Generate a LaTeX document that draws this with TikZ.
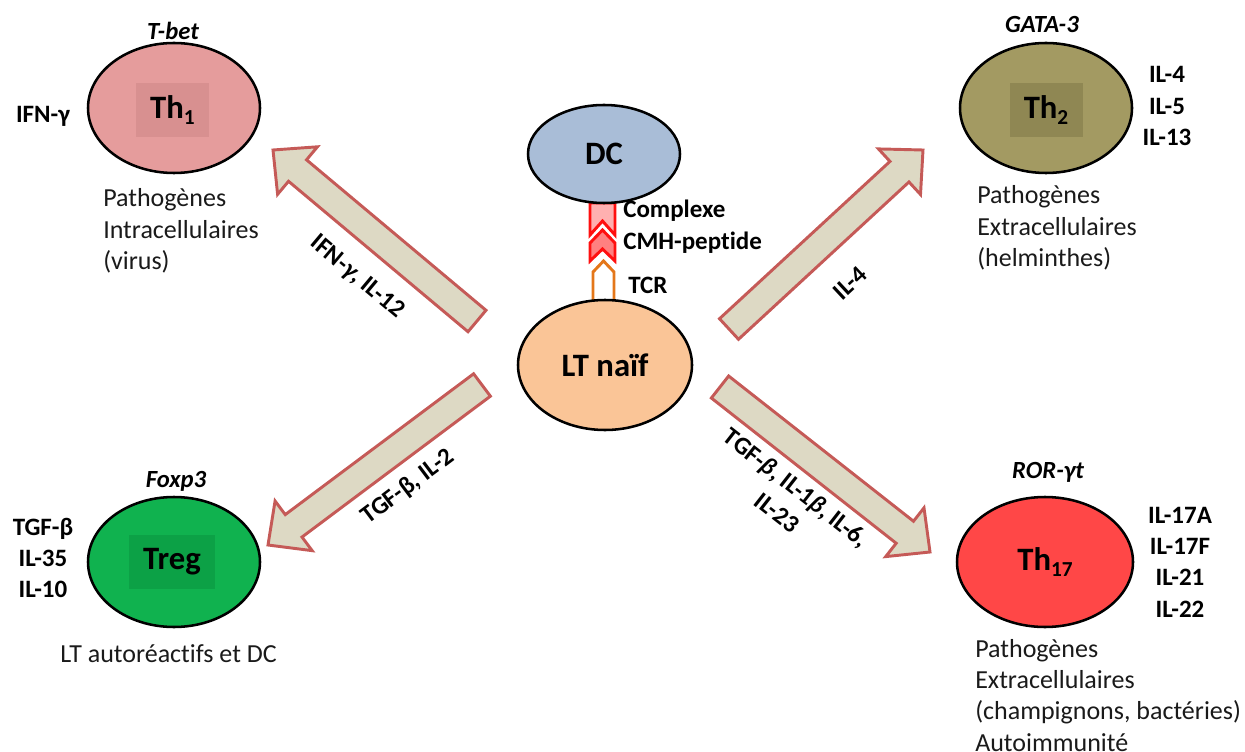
\documentclass[tikz,border=0pt]{standalone}
\usepackage{fontspec}
\setmainfont{Carlito}[Ligatures=NoCommon]
\usetikzlibrary{shapes.geometric,calc}
\definecolor{thonefill}{HTML}{E59C9C}
\definecolor{thonesq}{HTML}{D89090}
\definecolor{thtwofill}{HTML}{A39A62}
\definecolor{thtwosq}{HTML}{8F8753}
\definecolor{tregfill}{HTML}{10B24F}
\definecolor{tregsq}{HTML}{0CA146}
\definecolor{thsevfill}{HTML}{FF4747}
\definecolor{dcfill}{HTML}{A9BDD7}
\definecolor{ltfill}{HTML}{FAC597}
\definecolor{arrowfill}{HTML}{DDD9C4}
\definecolor{arrowline}{HTML}{C55A57}
\definecolor{mhcfill}{HTML}{FFB0B0}
\definecolor{mhcline}{HTML}{FF1010}
\definecolor{tcrline}{HTML}{E4771A}
\definecolor{txtcol}{HTML}{1A1A1A}
\newcommand\linesC[1]{\begin{tabular}[t]{@{}c@{}}#1\end{tabular}}
\newcommand\linesL[1]{\begin{tabular}[t]{@{}l@{}}#1\end{tabular}}
\newcommand\subn[1]{\raisebox{-5pt}{\fontsize{16}{16}\selectfont #1}}
\newcommand\blockarrow[2]{%
  \coordinate (#1neck) at ($(#2)!24pt!(#1)$);
  \path[blockarrowstyle]
    ($(#1)!10.5pt!90:(#2)$) -- ($(#1neck)!10.5pt!90:(#2)$) --
    ($(#1neck)!23.25pt!90:(#2)$) -- (#2) --
    ($(#1neck)!23.25pt!-90:(#2)$) -- ($(#1neck)!10.5pt!-90:(#2)$) --
    ($(#1)!10.5pt!-90:(#2)$) -- cycle;}
\begin{document}
\begin{tikzpicture}[x=0.75pt,y=-0.75pt,
  cell/.style={ellipse, draw=black, line width=1.9pt, inner sep=0pt,
    minimum width=129pt, minimum height=97.5pt,
    font=\fontsize{24.5}{28}\selectfont\bfseries},
  sq/.style={rectangle, inner sep=0pt, minimum width=54.75pt, minimum height=40.5pt,
    font=\fontsize{24.5}{28}\selectfont\bfseries},
  lab/.style={inner sep=0pt, text=black, font=\fontsize{18.75}{23.6}\selectfont\bfseries},
  itlab/.style={inner sep=0pt, text=black, font=\fontsize{18.5}{23.6}\selectfont\bfseries\itshape},
  txt/.style={inner sep=0pt, text=txtcol, font=\fontsize{19.5}{23.6}\selectfont},
  blockarrowstyle/.style={fill=arrowfill, draw=arrowline, line width=2.2pt, line join=miter},
  mhc/.style={fill=mhcfill, draw=mhcline, line width=2.2pt, line join=miter},
  tcr/.style={draw=tcrline, line width=2.2pt, line join=miter}]
\useasboundingbox (0,0) rectangle (1245,752);

% arrows
\coordinate (aones) at (477,321); \coordinate (aonee) at (273,150);
\coordinate (atwos) at (729,329); \coordinate (atwoe) at (923,150);
\coordinate (athrs) at (482,385); \coordinate (athre) at (268,545);
\coordinate (afous) at (720,387); \coordinate (afoue) at (930,552);
\blockarrow{aones}{aonee}
\blockarrow{atwos}{atwoe}
\blockarrow{athrs}{athre}
\blockarrow{afous}{afoue}

% MHC / TCR
\draw[mhc] (590,203) -- (615,203) -- (615,235) -- (602.5,221) -- (590,235) -- cycle;
\draw[mhc, fill=mhcfill!70!mhcline] (602.5,230) -- (615,243) -- (615,261) -- (602.5,249) -- (590,261) -- (590,243) -- cycle;
\draw[tcr] (593,302) -- (593,272) -- (603.5,261) -- (614,272) -- (614,302);

% central cells
\node[cell, fill=dcfill, minimum width=114pt, minimum height=73.5pt] (dc) at (604,154) {DC};
\node[cell, fill=ltfill, minimum width=130.5pt, minimum height=97.5pt] (lt) at (605,365) {LT naïf};
\node[lab, anchor=base west] (cplx) at (623,218) {Complexe};
\node[lab, anchor=base west] (cmh) at (623,250) {CMH-peptide};
\node[lab, anchor=base west] (tcrlab) at (628,293) {TCR};

% Th1
\node[cell, fill=thonefill] (th1) at (174,108) {};
\node[sq, fill=thonesq] (th1box) at (172.5,110) {Th\subn{1}};
\node[itlab, anchor=base] (tbet) at (173,40) {T-bet};
\node[lab, anchor=base] (ifng) at (43,123) {IFN-γ};
\node[txt, anchor=base west] (th1txt) at (103,207) {\linesL{Pathogènes\\Intracellulaires\\(virus)}};

% Th2
\node[cell, fill=thtwofill] (th2) at (1046,108) {};
\node[sq, fill=thtwosq] (th2box) at (1046,110) {Th\subn{2}};
\node[itlab, anchor=base] (gata) at (1042,33) {GATA-3};
\node[lab, anchor=base] (th2cyt) at (1167,83) {\linesC{IL-4\\IL-5\\IL-13}};
\node[txt, anchor=base west] (th2txt) at (977,204) {\linesL{Pathogènes\\Extracellulaires\\(helminthes)}};

% Treg
\node[cell, fill=tregfill] (treg) at (174,562) {};
\node[sq, fill=tregsq, minimum width=64.5pt] (tregbox) at (172,562) {Treg};
\node[itlab, anchor=base] (foxp) at (176,487) {Foxp3};
\node[lab, anchor=base] (tregcyt) at (43,535) {\linesC{TGF-β\\IL-35\\IL-10}};
\node[txt, anchor=base west] (tregtxt) at (60,662) {LT autoréactifs et DC};

% Th17
\node[cell, fill=thsevfill, minimum width=132pt] (th17) at (1045,562) {Th\subn{17}};
\node[itlab, anchor=base] (ror) at (1048,478) {ROR-γt};
\node[lab, anchor=base] (th17cyt) at (1180,523) {\linesC{IL-17A\\IL-17F\\IL-21\\IL-22}};
\node[txt, anchor=base west] (th17txt) at (975,657) {\linesL{Pathogènes\\Extracellulaires\\(champignons, bactéries)\\Autoimmunité}};

% arrow labels
\node[lab, rotate=-40] (lone) at (357,277) {IFN-\textit{γ}, IL-12};
\node[lab, rotate=43] (ltwo) at (850,283) {IL-4};
\node[lab, rotate=37] (lthr) at (408,487) {TGF-β, IL-2};
\node[lab, rotate=-38, align=center] (lfou) at (787,500) {TGF-\textit{β}, IL-1\textit{β}, IL-6,\\IL-23};
\end{tikzpicture}
\end{document}
